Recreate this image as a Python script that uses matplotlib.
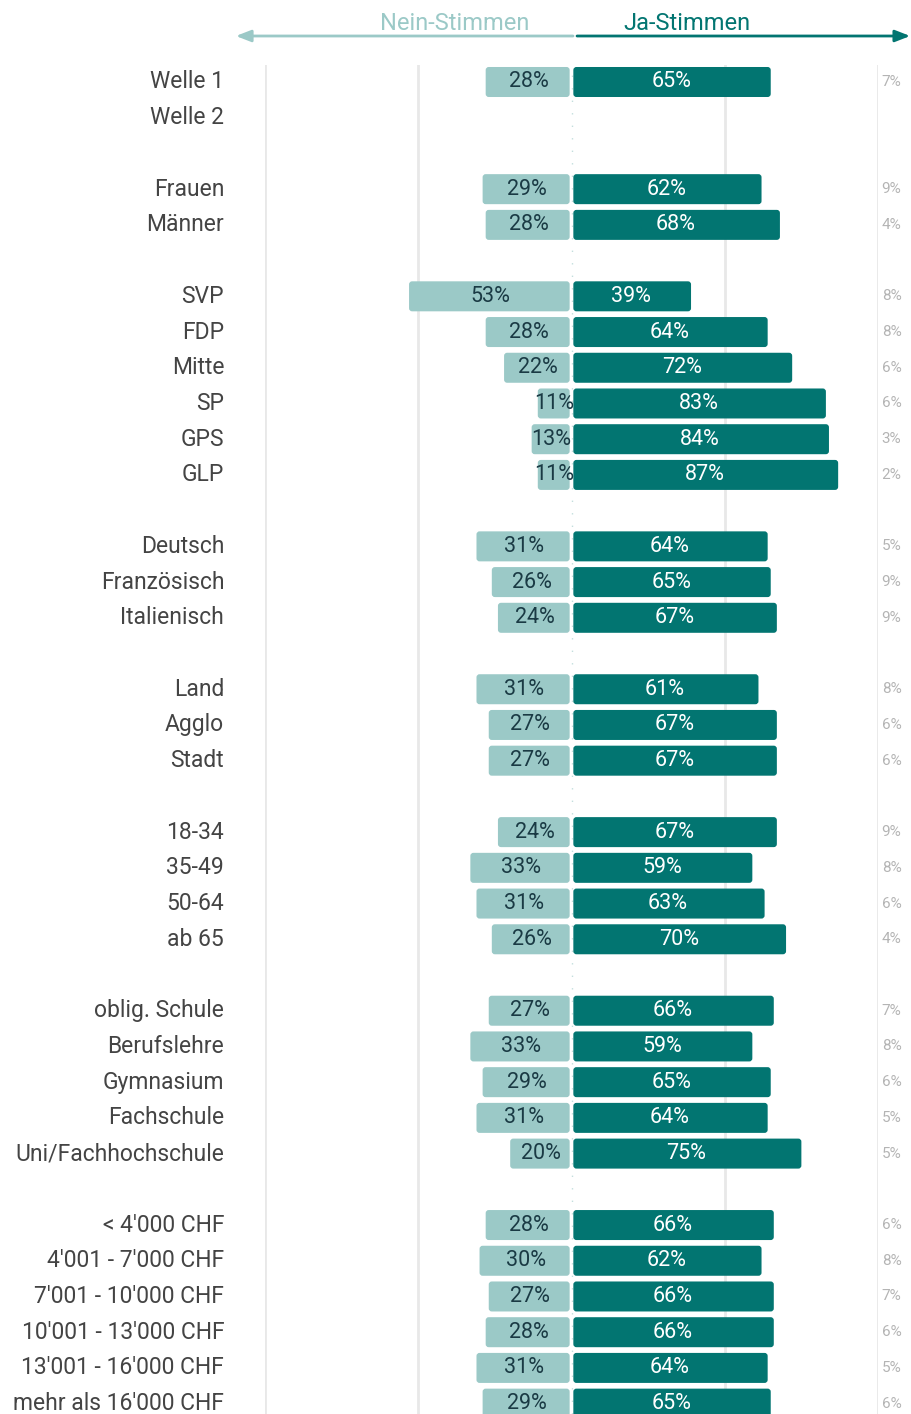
import matplotlib.pyplot as plt
import numpy as np
from matplotlib.patches import FancyBboxPatch

plt.rcParams['font.family'] = ['Roboto', 'DejaVu Sans']

# ---------- Data ----------
groups = [
    ['Welle 1', 'Welle 2'],
    ['Frauen', 'Männer'],
    ['SVP', 'FDP', 'Mitte', 'SP', 'GPS', 'GLP'],
    ['Deutsch', 'Französisch', 'Italienisch'],
    ['Land', 'Agglo', 'Stadt'],
    ['18-34', '35-49', '50-64', 'ab 65'],
    ['oblig. Schule', 'Berufslehre', 'Gymnasium', 'Fachschule', 'Uni/Fachhochschule'],
    ['< 4\'000 CHF', '4\'001 - 7\'000 CHF', '7\'001 - 10\'000 CHF',
     '10\'001 - 13\'000 CHF', '13\'001 - 16\'000 CHF', 'mehr als 16\'000 CHF'],
]
nein = [28, None, 29, 28, 53, 28, 22, 11, 13, 11, 31, 26, 24, 31, 27, 27,
        24, 33, 31, 26, 27, 33, 29, 31, 20, 28, 30, 27, 28, 31, 29]
ja = [65, None, 62, 68, 39, 64, 72, 83, 84, 87, 64, 65, 67, 61, 67, 67,
      67, 59, 63, 70, 66, 59, 65, 64, 75, 66, 62, 66, 66, 64, 65]
weiss = [7, None, 9, 4, 8, 8, 6, 6, 3, 2, 5, 9, 9, 8, 6, 6,
         9, 8, 6, 4, 7, 8, 6, 5, 5, 6, 8, 7, 6, 5, 6]

# ---------- Colors ----------
c_nein = '#9bc9c7'
c_ja = '#027571'
c_nein_txt = '#1a3a44'
c_label = '#444444'
c_grid = '#e8e8e8'

# row positions (one empty row between groups)
labels, ypos = [], []
r = 0
for g in groups:
    for lab in g:
        labels.append(lab)
        ypos.append(r)
        r += 1
    r += 1

fig = plt.figure(figsize=(9.11, 14.14), dpi=100)
W, H = 911, 1414
x0, x1 = 265, 878
top, bot = 65, 1414
y_first = 82
ax = fig.add_axes([x0 / W, 0, (x1 - x0) / W, (bot - top) / H])
row_px = 35.72
ax.set_xlim(-100, 100)
ax.set_ylim((bot - y_first) / row_px, (top - y_first) / row_px)
ax.axis('off')

# ---------- Grid ----------
for gx in [-100, -50, 50, 100]:
    ax.axvline(gx, color=c_grid, lw=2, zorder=0)
ax.axvline(0, color=c_nein, lw=1, ls=(0, (1, 8)), alpha=0.6, zorder=0)

bh = 0.84
gap = 0.6
ra = 3 / row_px / (3 / 3.065)  # keep corners round in pixel space

for lab, y, n, j, w in zip(labels, ypos, nein, ja, weiss):
    ax.text(-113.3, y, lab, ha='right', va='center',
            fontsize=16.5, color=c_label, clip_on=False)
    if n is None:
        continue
    ax.add_patch(FancyBboxPatch((-n, y - bh / 2), n - gap, bh,
                                boxstyle='round,pad=0,rounding_size=1.0',
                                mutation_aspect=ra, fc=c_nein, ec='none', zorder=2))
    ax.add_patch(FancyBboxPatch((gap, y - bh / 2), j - gap, bh,
                                boxstyle='round,pad=0,rounding_size=1.0',
                                mutation_aspect=ra, fc=c_ja, ec='none', zorder=2))
    ax.text(-n / 2, y, f'{n}%', ha='center', va='center', fontsize=15.5,
            color=c_nein_txt, zorder=3)
    ax.text(j / 2, y, f'{j}%', ha='center', va='center', fontsize=15.5,
            color='white', zorder=3)
    ax.text(101.2, y, f'{w}%', ha='left', va='center', fontsize=11,
            color='#b4b4b4', clip_on=False)

# ---------- Header arrows ----------
ya = (36 - y_first) / row_px
yt = (24 - y_first) / row_px
ax.annotate('', xy=(-109.5, ya), xytext=(0.5, ya), annotation_clip=False,
            arrowprops=dict(arrowstyle='-|>,head_length=0.9,head_width=0.35',
                            color=c_nein, lw=2, shrinkA=0, shrinkB=0))
ax.annotate('', xy=(110.5, ya), xytext=(1.8, ya), annotation_clip=False,
            arrowprops=dict(arrowstyle='-|>,head_length=0.9,head_width=0.35',
                            color=c_ja, lw=2, shrinkA=0, shrinkB=0))
ax.text(-38, yt, 'Nein-Stimmen', ha='center', va='center', fontsize=17,
        color=c_nein, clip_on=False)
ax.text(37.5, yt, 'Ja-Stimmen', ha='center', va='center', fontsize=17,
        color=c_ja, clip_on=False)

fig.savefig('out.png', dpi=100)
